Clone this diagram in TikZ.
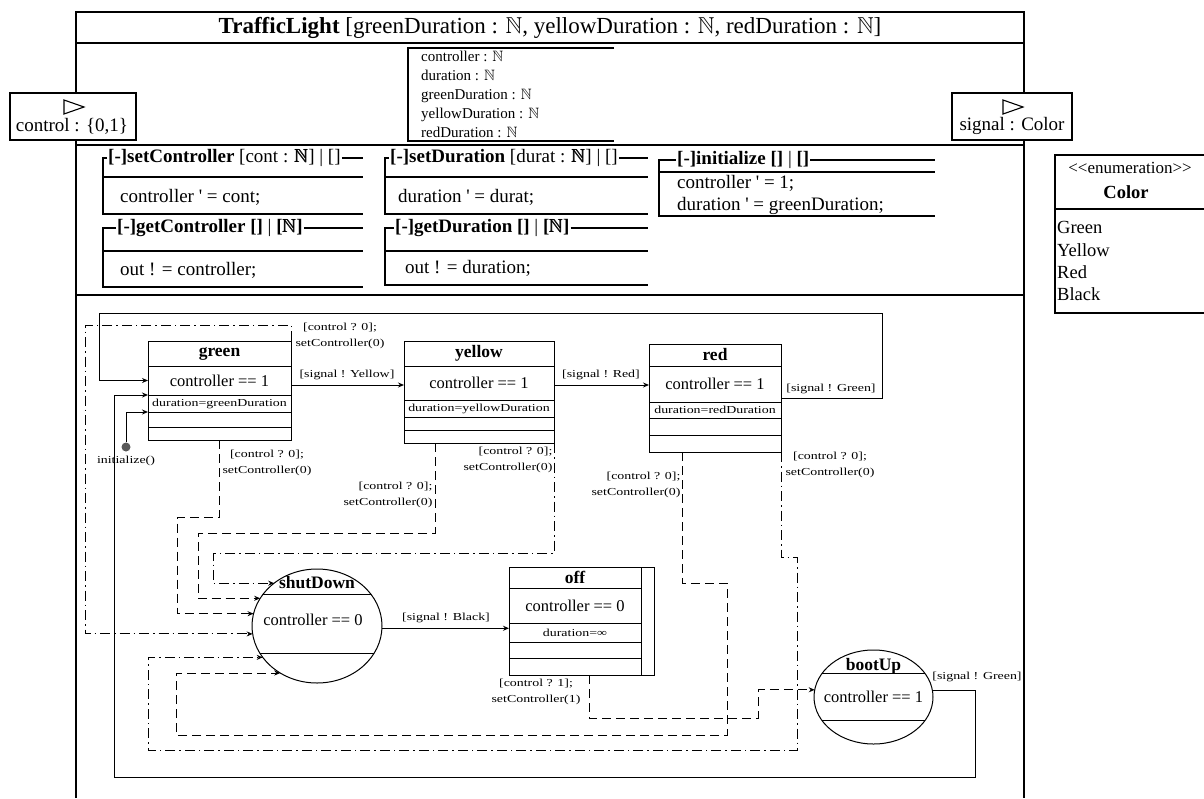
\documentclass[tikz,border=0pt]{standalone}
\usepackage{amsmath}
\usepackage{amssymb}
\usepackage{fontspec}
\setmainfont{Liberation Serif}
\newfontfamily\lblfont[FakeStretch=1.3]{Liberation Serif}
\usetikzlibrary{shapes.geometric, arrows.meta, positioning}

\begin{document}
\begin{tikzpicture}[x=1pt, y=-1pt, node distance=0pt,
    frameline/.style={line width=1.3pt},
    opline/.style={line width=1.1pt},
    port/.style={rectangle, draw=black, line width=1.1pt, fill=white, inner sep=0pt, minimum height=47pt},
    porttext/.style={font=\fontsize{19}{21}\selectfont, inner sep=0pt},
    titletext/.style={font=\fontsize{23}{26}\selectfont, inner sep=0pt},
    attrs/.style={font=\fontsize{15}{19}\selectfont, inner sep=0pt, align=left, anchor=north west},
    optitle/.style={font=\fontsize{19}{21}\selectfont, inner sep=1pt, anchor=west},
    opbody/.style={font=\fontsize{19}{22}\selectfont, inner sep=0pt, anchor=west, align=left},
    stname/.style={rectangle, draw=black, line width=1pt, inner sep=0pt, outer sep=0pt, font=\bfseries\fontsize{17.5}{19}\selectfont},
    strow/.style={rectangle, draw=black, line width=1pt, inner sep=0pt, outer sep=0pt, font=\fontsize{16.5}{19}\selectfont},
    stdur/.style={strow, font=\lblfont\fontsize{10.7}{12}\selectfont},
    stell/.style={ellipse, draw=black, line width=1pt, inner sep=0pt, outer sep=0pt},
    initdot/.style={circle, fill=black!65, inner sep=0pt, minimum size=9pt},
    lbl/.style={font=\lblfont\fontsize{10.7}{16}\selectfont, inner sep=0pt, align=center},
    arrow/.style={line width=1pt, -{Stealth[length=6pt, width=5pt]}},
    dasharrow/.style={arrow, dash pattern=on 9pt off 5pt},
    dotarrow/.style={arrow, dash pattern=on 10pt off 4pt on 1.5pt off 4pt}]

    \useasboundingbox (0,0) rectangle (1204,798);

    \draw[frameline] (76,798) -- (76,12) -- (1024,12) -- (1024,798);
    \draw[frameline] (76,43) -- (1024,43);
    \draw[frameline] (76,145) -- (1024,145);
    \draw[frameline] (76,295) -- (1024,295);
    \node[titletext] (title) at (550,28) {\textbf{TrafficLight} [greenDuration : $\mathbb{N}$, yellowDuration : $\mathbb{N}$, redDuration : $\mathbb{N}$]};

    \draw[opline] (614,48) -| (408,141) -- (614,141);
    \node[attrs] (vars) at (421,51) {controller : $\mathbb{N}$\\duration : $\mathbb{N}$\\greenDuration : $\mathbb{N}$\\yellowDuration : $\mathbb{N}$\\redDuration : $\mathbb{N}$};

    \node[port, minimum width=126pt] (control) at (73,116.5) {};
    \draw[opline] (64,100) -- (84,107) -- (64,114) -- cycle;
    \node[porttext] (controlText) at (72,126) {control : \{0,1\}};
    \node[port, minimum width=120pt] (signal) at (1012,116.5) {};
    \draw[opline] (1003,100) -- (1023,107) -- (1003,114) -- cycle;
    \node[porttext] (signalText) at (1012,126) {signal : Color};

    \node[optitle] (setCtl) at (107,158) {\textbf{[-]setController} [cont : $\pmb{\mathbb{N}}$] | []};
    \draw[opline] (setCtl.west) -| (103,214) -- (363,214);
    \draw[opline] (setCtl.east) -- (363,158);
    \draw[opline] (103,177) -- (363,177);
    \node[opbody] (setCtlBody) at (120,197) {controller \textquotesingle\ = cont;};

    \node[optitle] (getCtl) at (116,228) {\textbf{[-]getController []} | \textbf{[$\pmb{\mathbb{N}}$]}};
    \draw[opline] (getCtl.west) -| (103,287) -- (363,287);
    \draw[opline] (getCtl.east) -- (363,228);
    \draw[opline] (103,251) -- (363,251);
    \node[opbody] (getCtlBody) at (120,270) {out ! = controller;};

    \node[optitle] (setDur) at (389,158) {\textbf{[-]setDuration} [durat : $\pmb{\mathbb{N}}$] | []};
    \draw[opline] (setDur.west) -| (385,214) -- (648,214);
    \draw[opline] (setDur.east) -- (648,158);
    \draw[opline] (385,177) -- (648,177);
    \node[opbody] (setDurBody) at (398,197) {duration \textquotesingle\ = durat;};

    \node[optitle] (getDur) at (394,228) {\textbf{[-]getDuration []} | \textbf{[$\pmb{\mathbb{N}}$]}};
    \draw[opline] (getDur.west) -| (385,285) -- (648,285);
    \draw[opline] (getDur.east) -- (648,228);
    \draw[opline] (385,251) -- (648,251);
    \node[opbody] (getDurBody) at (405,268) {out ! = duration;};

    \node[optitle] (initOp) at (676,160) {\textbf{[-]initialize []} | \textbf{[]}};
    \draw[opline] (initOp.west) -| (659,216) -- (935,216);
    \draw[opline] (initOp.east) -- (935,160);
    \draw[opline] (659,172) -- (935,172);
    \node[opbody] (initOpBody) at (677,195) {controller \textquotesingle\ = 1;\\duration \textquotesingle\ = greenDuration;};

    \draw[opline] (1204,155) -| (1055,313) -- (1204,313);
    \draw[opline] (1055,209) -- (1204,209);
    \node[font=\fontsize{17}{19}\selectfont, inner sep=0pt] (colorStereo) at (1130,168) {<\kern0pt<enumeration>\kern0pt>};
    \node[font=\bfseries\fontsize{18.5}{20}\selectfont, inner sep=0pt] (colorName) at (1126,192) {Color};
    \node[font=\fontsize{18.5}{22.3}\selectfont, inner sep=0pt, align=left, anchor=north west] (colorLits) at (1057,221.5) {Green\\Yellow\\Red\\Black};

    \node[stname, minimum width=143pt, minimum height=25pt, anchor=north] (greenName) at (219.5,341) {green};
    \node[strow, minimum width=143pt, minimum height=29pt, below=of greenName] (greenCtl) {controller == 1};
    \node[stdur, minimum width=143pt, minimum height=17pt, below=of greenCtl] (greenDur) {duration=greenDuration};
    \node[strow, minimum width=143pt, minimum height=15pt, below=of greenDur] (greenE1) {};
    \node[strow, minimum width=143pt, minimum height=13pt, below=of greenE1] (greenE2) {};

    \node[stname, minimum width=150pt, minimum height=25pt, anchor=north] (yellowName) at (479,341) {yellow};
    \node[strow, minimum width=150pt, minimum height=34pt, below=of yellowName] (yellowCtl) {controller == 1};
    \node[stdur, minimum width=150pt, minimum height=17pt, below=of yellowCtl] (yellowDur) {duration=yellowDuration};
    \node[strow, minimum width=150pt, minimum height=13pt, below=of yellowDur] (yellowE1) {};
    \node[strow, minimum width=150pt, minimum height=13pt, below=of yellowE1] (yellowE2) {};

    \node[stname, minimum width=132pt, minimum height=22pt, anchor=north] (redName) at (715,344) {red};
    \node[strow, minimum width=132pt, minimum height=36pt, below=of redName] (redCtl) {controller == 1};
    \node[stdur, minimum width=132pt, minimum height=16pt, below=of redCtl] (redDur) {duration=redDuration};
    \node[strow, minimum width=132pt, minimum height=17pt, below=of redDur] (redE1) {};
    \node[strow, minimum width=132pt, minimum height=17pt, below=of redE1] (redE2) {};

    \node[stname, minimum width=132pt, minimum height=21pt, anchor=north] (offName) at (575,567) {off};
    \node[strow, minimum width=132pt, minimum height=35pt, below=of offName] (offCtl) {controller == 0};
    \node[stdur, minimum width=132pt, minimum height=19pt, below=of offCtl] (offDur) {duration=∞};
    \node[strow, minimum width=132pt, minimum height=16pt, below=of offDur] (offE1) {};
    \node[strow, minimum width=132pt, minimum height=17pt, below=of offE1] (offE2) {};
    \node[strow, minimum width=13pt, minimum height=108pt, anchor=north west] (offBar) at (offName.north east) {};

    \node[stell, minimum width=130pt, minimum height=114pt] (shutDown) at (317,626) {};
    \draw[opline] (shutDown.150) -- (shutDown.30);
    \draw[opline] (shutDown.206) -- (shutDown.334);
    \node[font=\bfseries\fontsize{17.5}{19}\selectfont, inner sep=0pt] (shutDownName) at ([yshift=43pt]shutDown.center) {shutDown};
    \node[font=\fontsize{16.5}{19}\selectfont, inner sep=0pt] (shutDownCtl) at ([xshift=-4pt,yshift=6pt]shutDown.center) {controller == 0};

    \node[stell, minimum width=119pt, minimum height=94pt] (bootUp) at (873.5,697) {};
    \draw[opline] (bootUp.156) -- (bootUp.24);
    \draw[opline] (bootUp.205) -- (bootUp.335);
    \node[font=\bfseries\fontsize{17.5}{19}\selectfont, inner sep=0pt] (bootUpName) at ([yshift=31pt]bootUp.center) {bootUp};
    \node[font=\fontsize{16.5}{19}\selectfont, inner sep=0pt] (bootUpCtl) at (bootUp.center) {controller == 1};

    \node[initdot] (init) at (126,447) {};
    \node[lbl, below=4pt of init] (initLbl) {initialize()};

    \coordinate (gyStart) at ([yshift=-4.5pt]greenCtl.east);
    \coordinate (yrStart) at ([yshift=-2pt]yellowCtl.east);
    \coordinate (topR) at (882,313);
    \coordinate (topL) at (99,313);
    \coordinate (botR) at (975,777);
    \coordinate (botL) at (114,777);
    \coordinate (greenRet) at (85,325);
    \coordinate (greenDown) at (177,517);
    \coordinate (yellowDown) at (198,533);
    \coordinate (yellowRet) at (213,553);
    \coordinate (redDown1) at (727,583);
    \coordinate (redDown2) at (176,735);
    \coordinate (redRet1) at (797,557);
    \coordinate (redRet2) at (148,750);
    \coordinate (offUp) at (758,718);

    \draw[arrow] (init) |- (greenDur.south west);
    \draw[arrow] (gyStart) -- (gyStart -| yellowCtl.west);
    \draw[arrow] (yrStart) -- (yrStart -| redCtl.west);
    \draw[arrow] ([yshift=-14pt]redCtl.east) -| (topR) -- (topL) |- (greenCtl.west);
    \draw[arrow] (bootUp.6) -| (botR) -- (botL) |- (greenCtl.south west);
    \draw[arrow] (shutDown.358) -- (shutDown.358 -| offCtl.west);
    \draw[dotarrow] (greenName.north east) |- (greenRet) |- (shutDown.187);
    \draw[dasharrow] (greenE2.south) |- (greenDown) |- (shutDown.169);
    \draw[dasharrow] ([xshift=31pt]yellowE2.south west) |- (yellowDown) |- (shutDown.154);
    \draw[dotarrow] (yellowE2.south east) |- (yellowRet) |- (shutDown.135);
    \draw[dasharrow] ([xshift=33pt]redE2.south west) |- (redDown1) |- (redDown2) |- (shutDown.232);
    \draw[dotarrow] (redE2.south east) |- (redRet1) |- (redRet2) |- (shutDown.210);
    \draw[dasharrow] ([xshift=80pt]offE2.south west) |- (offUp) |- (bootUp.173);

    \node[lbl] (lblGreenYellow) at (347,375) {[signal ! Yellow]};
    \node[lbl] (lblYellowRed) at (601,375) {[signal ! Red]};
    \node[lbl] (lblRedGreen) at (831,389) {[signal ! Green]};
    \node[lbl] (lblBootGreen) at (977,677) {[signal ! Green]};
    \node[lbl] (lblShutOff) at (446,618) {[signal ! Black]};
    \node[lbl] (lblGreenTop) at (340,336) {[control ? 0];\\setController(0)};
    \node[lbl] (lblGreenBot) at (267,463) {[control ? 0];\\setController(0)};
    \node[lbl, align=right] (lblYellowL) at (388,495) {[control ? 0];\\setController(0)};
    \node[lbl, align=right] (lblYellowR) at (508,460) {[control ? 0];\\setController(0)};
    \node[lbl, align=right] (lblRedL) at (636,485) {[control ? 0];\\setController(0)};
    \node[lbl] (lblRedR) at (830,465) {[control ? 0];\\setController(0)};
    \node[lbl] (lblOff) at (536,692) {[control ? 1];\\setController(1)};
\end{tikzpicture}
\end{document}
